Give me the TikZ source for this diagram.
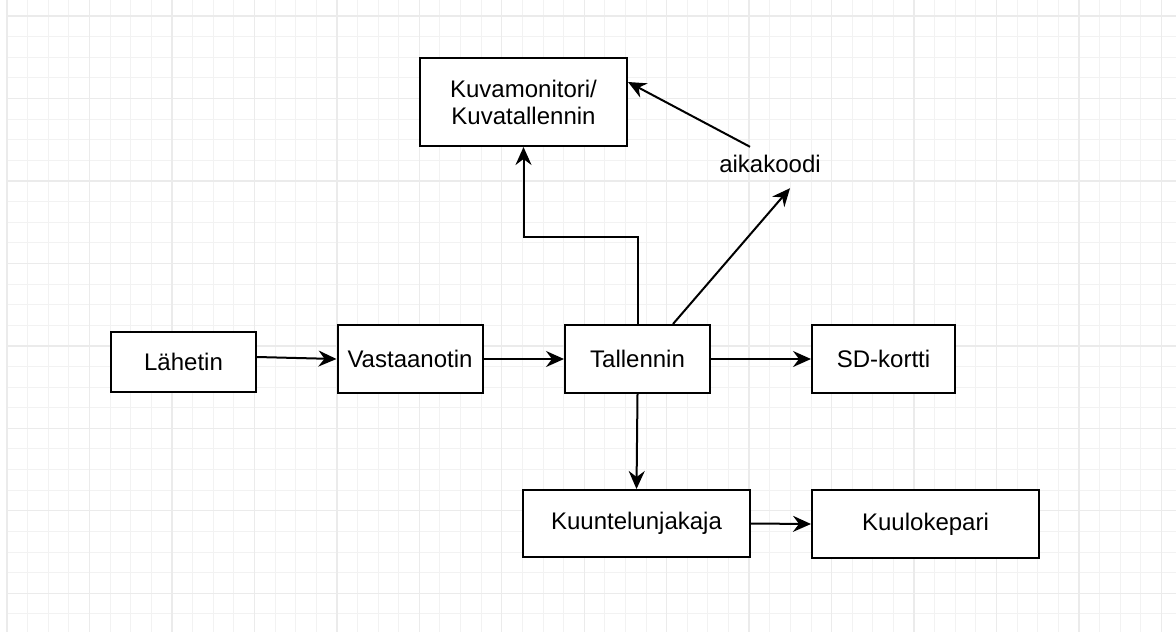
\documentclass[tikz,border=0pt]{standalone}
\usepackage{fontspec}
\setmainfont{Liberation Sans}
\usetikzlibrary{arrows.meta,positioning}

\begin{document}
\begin{tikzpicture}
            [x=0.5pt, y=-0.5pt, font=\fontsize{12}{13.5}\selectfont,
            block/.style={draw=black, line width=1pt, fill=white, align=center, inner sep=0pt},
            % draw.io like arrows
            arr/.style={draw=black, line width=1pt, -{Stealth[length=9pt, width=8pt, inset=3pt]}},
            minorline/.style={draw=black!5, line width=0.5pt},
            majorline/.style={draw=black!8, line width=0.7pt}]
            \useasboundingbox (0,0) rectangle (1176,632);
            \fill[white] (0,0) rectangle (1176,632);
            % grid
            \foreach \i in {0,...,56}
                \draw[minorline] ({7+\i*20.615},0) -- ({7+\i*20.615},632);
            \foreach \j in {0,...,30}
                \draw[minorline] (7,{16+\j*20.615}) -- (1176,{16+\j*20.615});
            \foreach \i in {0,...,14}
                \draw[majorline] ({7+\i*82.46},0) -- ({7+\i*82.46},632);
            \foreach \j in {0,...,7}
                \draw[majorline] (7,{16+\j*82.46}) -- (1176,{16+\j*82.46});
            % blocks
            \node [block, minimum width=72.5pt, minimum height=30pt] (lahetin) at (183.5,362) {Lähetin};
            \node [block, minimum width=72.5pt, minimum height=34pt] (vastaanotin) at (410,359) {Vastaanotin};
            \node [block, minimum width=72.5pt, minimum height=34pt] (tallennin) at (637.5,359) {Tallennin};
            \node [block, minimum width=71.5pt, minimum height=34pt] (sdkortti) at (883.5,359) {SD-kortti};
            \node [block, minimum width=103.5pt, minimum height=44pt] (kuvamonitori) at (523.5,102) {Kuvamonitori/\\Kuvatallennin};
            \node [block, minimum width=113.5pt, minimum height=33.5pt] (kuuntelu) at (636.5,523.5) {Kuuntelunjakaja};
            \node [block, minimum width=113.5pt, minimum height=34pt] (kuuloke) at (925.5,524) {Kuulokepari};
            \node [inner sep=0pt] (aikakoodi) at (770,164) {aikakoodi};
            \coordinate (bend) at (580,237);
            % connectors
            \draw[arr] ([yshift=2.5pt]lahetin.east) -- (vastaanotin.west);
            \draw[arr] (vastaanotin.east) -- (tallennin.west);
            \draw[arr] (tallennin.east) -- (sdkortti.west);
            \draw[arr] (tallennin.south) -- (kuuntelu.north);
            \draw[arr] (kuuntelu.east) -- (kuuloke.west);
            \draw[arr] (tallennin.north) |- (bend) -| (kuvamonitori.south);
            \draw[arr] ([xshift=17.75pt]tallennin.north) -- ([shift={(10pt,-7.5pt)}]aikakoodi.south);
            \draw[arr] ([shift={(-10pt,4pt)}]aikakoodi.north) -- ([yshift=10pt]kuvamonitori.east);
\end{tikzpicture}
\end{document}
